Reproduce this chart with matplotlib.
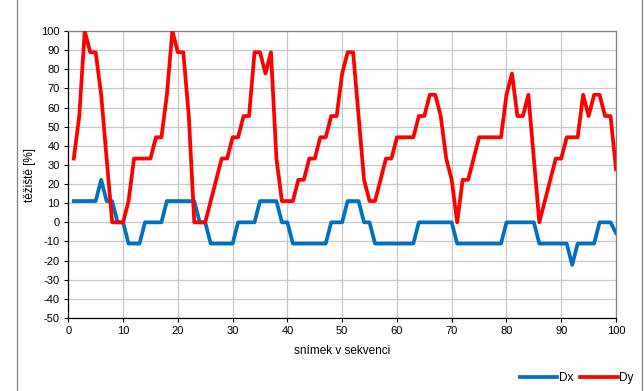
import matplotlib
matplotlib.use("Agg")
import matplotlib.pyplot as plt
from matplotlib.lines import Line2D

plt.rcParams['font.family'] = ['Liberation Sans', 'DejaVu Sans']
plt.rcParams['axes.unicode_minus'] = False

frames = list(range(1, 101))

s = 100.0 / 9.0
dx_steps = [1, 1, 1, 1, 1, 2, 1, 1, 0, 0,
            -1, -1, -1, 0, 0, 0, 0, 1, 1, 1,
            1, 1, 1, 0, 0, -1, -1, -1, -1, -1,
            0, 0, 0, 0, 1, 1, 1, 1, 0, 0,
            -1, -1, -1, -1, -1, -1, -1, 0, 0, 0,
            1, 1, 1, 0, 0, -1, -1, -1, -1, -1,
            -1, -1, -1, 0, 0, 0, 0, 0, 0, 0,
            -1, -1, -1, -1, -1, -1, -1, -1, -1, 0,
            0, 0, 0, 0, 0, -1, -1, -1, -1, -1,
            -1, -2, -1, -1, -1, -1, 0, 0, 0, -0.5]
dy_steps = [3, 5, 9, 8, 8, 6, 3, 0, 0, 0,
            1, 3, 3, 3, 3, 4, 4, 6, 9, 8,
            8, 5, 0, 0, 0, 1, 2, 3, 3, 4,
            4, 5, 5, 8, 8, 7, 8, 3, 1, 1,
            1, 2, 2, 3, 3, 4, 4, 5, 5, 7,
            8, 8, 5, 2, 1, 1, 2, 3, 3, 4,
            4, 4, 4, 5, 5, 6, 6, 5, 3, 2,
            0, 2, 2, 3, 4, 4, 4, 4, 4, 6,
            7, 5, 5, 6, 3, 0, 1, 2, 3, 3,
            4, 4, 4, 6, 5, 6, 6, 5, 5, 2.5]
Dx = [v * s for v in dx_steps]
Dy = [v * s for v in dy_steps]

W, H = 644, 391
fig = plt.figure(figsize=(W / 100, H / 100), dpi=100)
ax = fig.add_axes([68.3 / W, 1 - 318 / H, (616 - 68.3) / W, (318 - 31) / H])

ax.plot(frames, Dx, color='#0070C0', lw=2.7, label='Dx', solid_joinstyle='round', zorder=3)
ax.plot(frames, Dy, color='#FF0000', lw=2.7, label='Dy', solid_joinstyle='round', zorder=4)

ax.set_xlim(0, 100)
ax.set_ylim(-50, 100)
ax.set_xticks(range(0, 101, 10))
ax.set_yticks(range(-50, 101, 10))
ax.grid(True, color='#C8C8C8', lw=0.9)
ax.set_axisbelow(True)
ax.tick_params(axis='both', direction='out', length=3, width=0.8, labelsize=8,
               colors='#000000', pad=3)
for side in ['top', 'right']:
    ax.spines[side].set_color('#808080')
for side in ['left', 'bottom']:
    ax.spines[side].set_color('#000000')
for sp in ax.spines.values():
    sp.set_linewidth(0.9)

ax.set_xlabel('snímek v sekvenci', fontsize=8.5, labelpad=6)
ax.set_ylabel('těžiště [%]', fontsize=8.5, labelpad=4)

# chart-area frame edges visible in the reference
for xpix in (16.5, 642):
    fig.add_artist(Line2D([xpix / W, xpix / W], [0, 1], color='#808080', lw=0.9,
                          transform=fig.transFigure))

fig.legend(loc='lower right', bbox_to_anchor=(1.0, -0.01), ncol=2, frameon=False,
           fontsize=8.5, handlelength=3.2, columnspacing=0.6, handletextpad=0.1)

fig.savefig('out.png', dpi=100)
